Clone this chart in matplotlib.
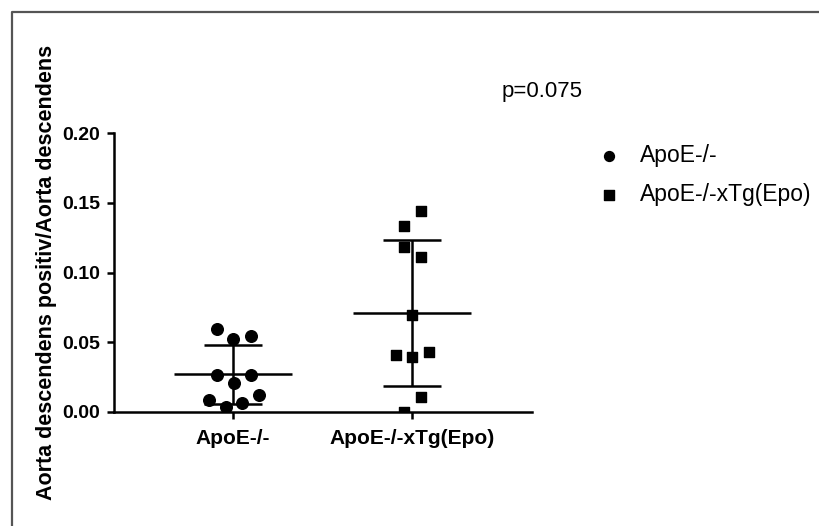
import numpy as np
import matplotlib
matplotlib.use("Agg")
from matplotlib import pyplot as plt
from matplotlib.lines import Line2D

#%% Data
groups = ["ApoE-/-", "ApoE-/-xTg(Epo)"]
apoe_vals = [0.0595, 0.052, 0.0545, 0.0265, 0.0265, 0.021, 0.0086, 0.012, 0.0065, 0.0036]
apoe_jitter = [-0.09, 0.0, 0.10, -0.09, 0.10, 0.005, -0.135, 0.145, 0.05, -0.04]
epo_vals = [0.144, 0.133, 0.118, 0.111, 0.0695, 0.041, 0.0395, 0.043, 0.0108, 0.0]
epo_jitter = [0.05, -0.045, -0.045, 0.05, 0.0, -0.09, 0.0, 0.095, 0.05, -0.045]
yticks = [0.00, 0.05, 0.10, 0.15, 0.20]
p_text = "p=0.075"
ylab = "Aorta descendens positiv/Aorta descendens"

plt.rcParams['font.family'] = ['Liberation Sans', 'DejaVu Sans']

#%% Figure
fig = plt.figure(figsize=(8.19, 5.26), dpi=100)
ax = fig.add_axes([114/819, 1 - 412/526, (532-114)/819, (412-133)/526])

lw = 1.8
series = [(apoe_vals, apoe_jitter, 'o'), (epo_vals, epo_jitter, 's')]
handles = []
for i, (vals, jit, mk) in enumerate(series):
    vals = np.array(vals)
    m = vals.mean()
    sd = vals.std(ddof=1)
    ax.errorbar([i], [m], yerr=[sd], fmt='none', ecolor='black',
                elinewidth=lw, capsize=21, capthick=lw, zorder=2)
    ax.hlines(m, i - 0.33, i + 0.33, color='black', lw=lw, zorder=2)
    h = ax.scatter(i + np.array(jit), vals, marker=mk, s=70 if mk == 'o' else 62,
                   color='black', zorder=3, label=groups[i])
    handles.append(h)

ax.set_xlim(-0.665, 1.67)
ax.set_ylim(0, 0.2)
ax.set_xticks([0, 1])
ax.set_xticklabels(groups, fontsize=15, fontweight='bold')
ax.set_yticks(yticks)
ax.set_yticklabels(["%.2f" % t for t in yticks], fontsize=14, fontweight='bold')
ax.tick_params(direction='out', length=5, width=lw)
ax.tick_params(axis='x', pad=7)
ax.tick_params(axis='y', pad=5)
ax.spines['top'].set_visible(False)
ax.spines['right'].set_visible(False)
ax.spines['left'].set_linewidth(lw)
ax.spines['bottom'].set_linewidth(lw)
ax.spines['left'].set_bounds(0, 0.2)
ax.set_ylabel(ylab, fontsize=15.5, fontweight='bold', labelpad=4)

#%% Legend and p value
fig.legend(handles=handles, loc='upper left', bbox_to_anchor=(579/819, 1 - 123/526),
           frameon=False, fontsize=16.5, handlelength=0.85, handletextpad=0.92,
           labelspacing=0.72, markerscale=0.85)
fig.text(502/819, 1 - 92/526, p_text, fontsize=16, ha='left', va='center')

# frame around the panel
fig.add_artist(Line2D([11.5/819, 11.5/819, 1.0], [0.0, 1 - 11.5/526, 1 - 11.5/526],
                      transform=fig.transFigure, color='#555555', lw=1.6))

fig.savefig("out.png", dpi=100)
